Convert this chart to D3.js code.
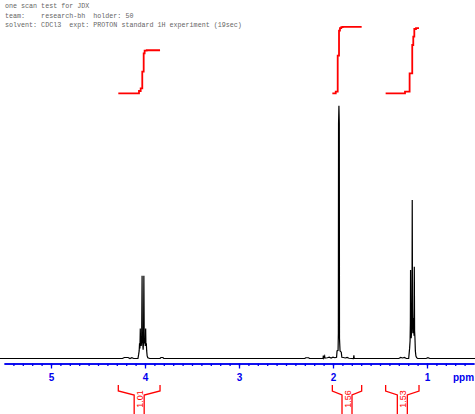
<!DOCTYPE html>
<meta charset="utf-8">
<script src="https://d3js.org/d3.v7.min.js"></script>
<style>
  body { margin: 0; background: #fff; }
</style>
<div id="my_dataviz"></div>
<script>

// header lines
var headerLines = [
  "one scan test for JDX",
  "team:    research-bh  holder: 50",
  "solvent: CDCl3  expt: PROTON standard 1H experiment (19sec)"
];

// spectrum trace, [ppm, intensity] (tallest = 100)
var trace = [
  [5.56, 0], [4.24, 0], [4.22, 0.4], [4.18, 0.4], [4.16, 0], [4.14, 0.3], [4.12, 0],
  [4.075, 0], [4.068, 1.5], [4.062, 3], [4.058, 6], [4.054, 4], [4.050, 11.9], [4.047, 5],
  [4.043, 7.2], [4.040, 5], [4.036, 7], [4.031, 32.7], [4.028, 8], [4.024, 6], [4.020, 3.5],
  [4.016, 6], [4.012, 32.7], [4.008, 7], [4.004, 6], [4.000, 7], [3.997, 5], [3.993, 11.9],
  [3.990, 5], [3.986, 6], [3.982, 3], [3.977, 1], [3.970, 0.3], [3.95, 0],
  [3.84, 0], [3.83, 0.4], [3.81, 0.4], [3.80, 0],
  [2.30, 0], [2.29, 0.3], [2.26, 0.3], [2.25, 0],
  [2.106, 0], [2.103, 1.2], [2.100, 0.2], [2.089, 1.0], [2.086, 0.2], [2.06, 0.3], [2.04, 0.5],
  [2.02, 0.2], [2.00, 0.5], [1.98, 0.3],
  [1.962, 0.5], [1.957, 3], [1.946, 3.2], [1.943, 10], [1.941, 93], [1.937, 100], [1.933, 93],
  [1.931, 8], [1.925, 3], [1.912, 2.5], [1.906, 0.5], [1.89, 0.4], [1.87, 0.2], [1.85, 0.4],
  [1.83, 0.1], [1.782, 0], [1.778, 1.3], [1.774, 0],
  [1.30, 0], [1.28, 0.4], [1.26, 0.2], [1.24, 0.4], [1.22, 0],
  [1.195, 0], [1.190, 2], [1.185, 4], [1.180, 7], [1.177, 14], [1.175, 35], [1.172, 18],
  [1.168, 8], [1.164, 11], [1.160, 18], [1.157, 62.7], [1.154, 20], [1.150, 10], [1.146, 12],
  [1.141, 16], [1.138, 9], [1.135, 36.3], [1.132, 11], [1.128, 8], [1.124, 3], [1.118, 1],
  [1.11, 0.3], [1.10, 0],
  [1.01, 0], [0.99, 0.3], [0.97, 0],
  [0.44, 0]
];

// integral step curves [ppm, cumulative value]
var integral1 = [[4.284, 0], [4.064, 0.054], [4.046, 0.117], [4.029, 0.507], [4.014, 0.939], [4.004, 1.0], [3.982, 1.01], [3.840, 1.01]];
var integral2 = [[2.007, 0], [1.971, 0.038], [1.950, 0.883], [1.936, 1.469], [1.926, 1.531], [1.912, 1.554], [1.897, 1.56], [1.695, 1.56]];
var integral3 = [[1.440, 0], [1.234, 0.038], [1.185, 0.469], [1.157, 1.134], [1.146, 1.329], [1.135, 1.509], [1.117, 1.53], [1.085, 1.53]];

// integration regions and labels
var regionFrom = [4.284, 2.007, 1.440];
var regionTo = [3.840, 1.695, 1.085];
var regionLabels = ["1.01", "1.56", "1.53"];

// axis ticks
var majorTicks = [5, 4, 3, 2, 1];
var minorTicks = d3.range(6, 55).map(function(d) { return d / 10; });

var width = 475, height = 414;

var svg = d3.select("#my_dataviz")
  .append("svg")
    .attr("width", width)
    .attr("height", height);

var x = d3.scaleLinear().domain([5.5, 0.5]).range([4, 474]);
var y = d3.scaleLinear().domain([0, 100]).range([358.5, 105.7]);
var yInt = d3.scaleLinear().domain([0, 1]).range([93.3, 50.7]);

// header
svg.selectAll("text.head")
  .data(headerLines)
  .enter()
  .append("text")
    .attr("class", "head")
    .attr("x", 5)
    .attr("y", function(d, i) { return [8, 17.5, 26.5][i]; })
    .attr("xml:space", "preserve")
    .style("white-space", "pre")
    .style("font-family", "Liberation Mono, monospace")
    .style("font-size", "6.7px")
    .style("fill", "#666")
    .text(function(d) { return d; });

// spectrum
var line = d3.line()
  .x(function(d) { return x(d[0]); })
  .y(function(d) { return y(d[1]); });

svg.append("path")
  .datum(trace)
  .attr("fill", "none")
  .attr("stroke", "#000")
  .attr("stroke-width", 1.2)
  .attr("d", line);

// integral curves
var intLine = d3.line()
  .curve(d3.curveStepAfter)
  .x(function(d) { return x(d[0]); })
  .y(function(d) { return yInt(d[1]); });

[integral1, integral2, integral3].forEach(function(c) {
  svg.append("path")
    .datum(c)
    .attr("fill", "none")
    .attr("stroke", "#ff0000")
    .attr("stroke-width", 1.8)
    .attr("d", intLine);
});

// axis
var axisY = 363.5;
var minorAxis = d3.axisBottom(x)
  .tickValues(minorTicks)
  .tickSize(2.5)
  .tickSizeOuter(0)
  .tickFormat("");
var gMinor = svg.append("g")
  .attr("transform", "translate(0," + axisY + ")")
  .call(minorAxis);

var majorAxis = d3.axisBottom(x)
  .tickValues(majorTicks)
  .tickSize(5)
  .tickSizeOuter(0)
  .tickPadding(5)
  .tickFormat(d3.format("d"));
var gMajor = svg.append("g")
  .attr("transform", "translate(0," + axisY + ")")
  .call(majorAxis);

svg.selectAll(".domain, .tick line")
  .attr("stroke", "#0000ee")
  .attr("stroke-width", 1.3);
gMajor.selectAll("text")
  .attr("fill", "#0000ee")
  .style("font-family", "Liberation Sans, Arial, sans-serif")
  .style("font-weight", "bold")
  .style("font-size", "10px");

svg.append("text")
  .attr("x", 453)
  .attr("y", 380.6)
  .style("font-family", "Liberation Sans, Arial, sans-serif")
  .style("font-weight", "bold")
  .style("font-size", "10px")
  .style("fill", "#0000ee")
  .text("ppm");

// integration brackets
regionLabels.forEach(function(lab, i) {
  var l = x(regionFrom[i]), r = x(regionTo[i]), c = (l + r) / 2;
  svg.append("path")
    .attr("fill", "none")
    .attr("stroke", "#ff0000")
    .attr("stroke-width", 1.3)
    .attr("d", "M" + l + ",385V391L" + (c - 5) + ",395V414" +
               "M" + r + ",385V391L" + (c + 5) + ",395V414");
  svg.append("text")
    .attr("transform", "translate(" + (c + 0.5) + ",399) rotate(-90)")
    .attr("text-anchor", "middle")
    .attr("dominant-baseline", "central")
    .style("font-family", "Liberation Sans, Arial, sans-serif")
    .style("font-size", "9px")
    .style("fill", "#ff0000")
    .text(lab);
});

</script>
